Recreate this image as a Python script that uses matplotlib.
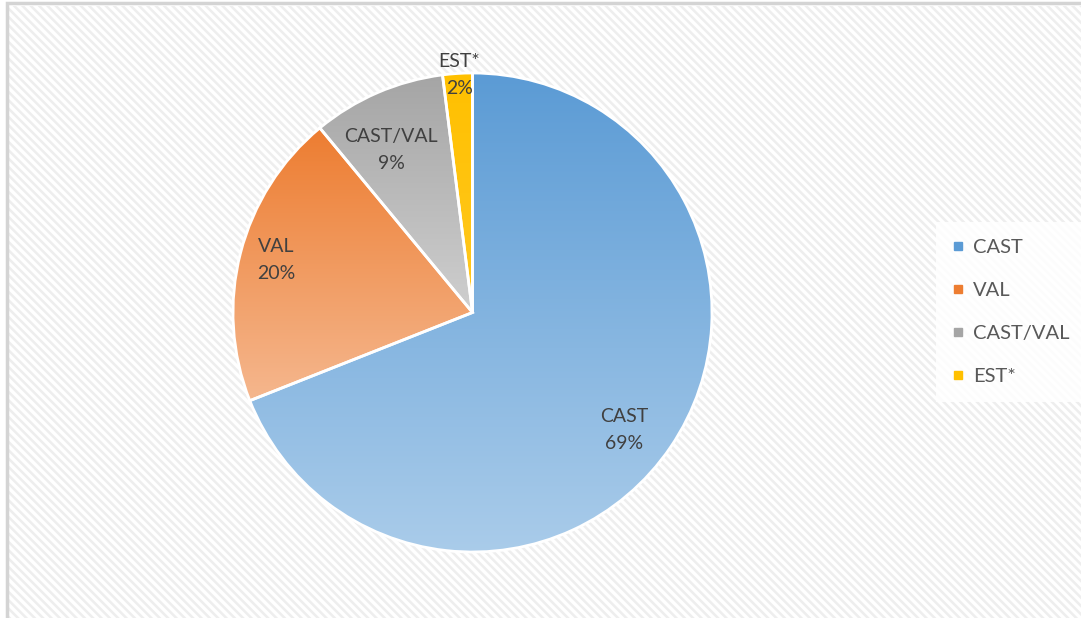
import numpy as np
import matplotlib
matplotlib.use("Agg")
import matplotlib.pyplot as plt
from matplotlib.patches import Rectangle
from matplotlib.lines import Line2D
from matplotlib.colors import LinearSegmentedColormap

categories = ["CAST", "VAL", "CAST/VAL", "EST*"]
values = [69, 20, 9, 2]
top_colors = ["#5b9bd5", "#ed7d31", "#a5a5a5", "#ffc000"]
bottom_colors = ["#aaccea", "#f5b78e", "#cfcfcf", "#ffc820"]
legend_colors = ["#5b9bd5", "#ed7d31", "#a5a5a5", "#ffc000"]
label_pos = [(0.633, -0.49), (-0.82, 0.219), (-0.34, 0.678), (-0.056, 0.99)]

plt.rcParams['font.family'] = ['Lato', 'DejaVu Sans']
W, H = 1081, 618
fig = plt.figure(figsize=(W / 100, H / 100), dpi=100)
fig.patch.set_facecolor("white")

plt.rcParams['hatch.linewidth'] = 1.8
bg = Rectangle((7 / W, 0), 1 - 7 / W, 1 - 6 / H, transform=fig.transFigure,
               facecolor="white", edgecolor="#eeeeee", hatch="\\\\\\\\", lw=0, zorder=-2)
fig.patches.append(bg)
border = Rectangle((7 / W, -0.01), 1.02 - 7 / W, 1.01 - 6 / H + 0.005, transform=fig.transFigure,
                   facecolor="none", edgecolor="#d4d4d4", lw=2.5, zorder=-1)
fig.patches.append(border)

cx, cy, r = 472.5, 312.5, 239.5
ax = fig.add_axes([(cx - r) / W, (H - cy - r) / H, 2 * r / W, 2 * r / H])
ax.set_zorder(1)
ax.axis("off")
ax.patch.set_alpha(0)

wedges, _ = ax.pie(values, startangle=90, counterclock=False, radius=1,
                   wedgeprops=dict(edgecolor="white", linewidth=2))

grad = np.linspace(1, 0, 256).reshape(-1, 1)
for w, tc, bc in zip(wedges, top_colors, bottom_colors):
    path = w.get_path().transformed(w.get_patch_transform())
    v = path.vertices
    x0, y0 = v.min(axis=0)
    x1, y1 = v.max(axis=0)
    cmap = LinearSegmentedColormap.from_list("g", [bc, tc])
    im = ax.imshow(grad, cmap=cmap, extent=(x0, x1, y0, y1), aspect="auto",
                   origin="upper", zorder=1, vmin=0, vmax=1)
    im.set_clip_path(w)
    w.set_facecolor("none")
    w.set_zorder(2)

ax.set_xlim(-1, 1)
ax.set_ylim(-1, 1)

for (lx, ly), name, val in zip(label_pos, categories, values):
    ax.text(lx, ly, f"{name}\n{val}%", ha="center", va="center", fontsize=14,
            color="#404040", linespacing=1.7, zorder=5)

handles = [Line2D([], [], marker="s", linestyle="none", markersize=6,
                  markerfacecolor=c, markeredgecolor=c) for c in legend_colors]
leg = fig.legend(handles, categories, loc="center left",
                 bbox_to_anchor=(926 / W, (H - 312) / H), frameon=True,
                 fontsize=14.5, labelspacing=1.3, handlelength=0.6,
                 handletextpad=0.45, borderpad=0.8, fancybox=False)
leg.get_frame().set_facecolor("white")
leg.get_frame().set_alpha(0.85)
leg.get_frame().set_edgecolor("none")
for t in leg.get_texts():
    t.set_color("#595959")

fig.savefig("out.png", dpi=100)
